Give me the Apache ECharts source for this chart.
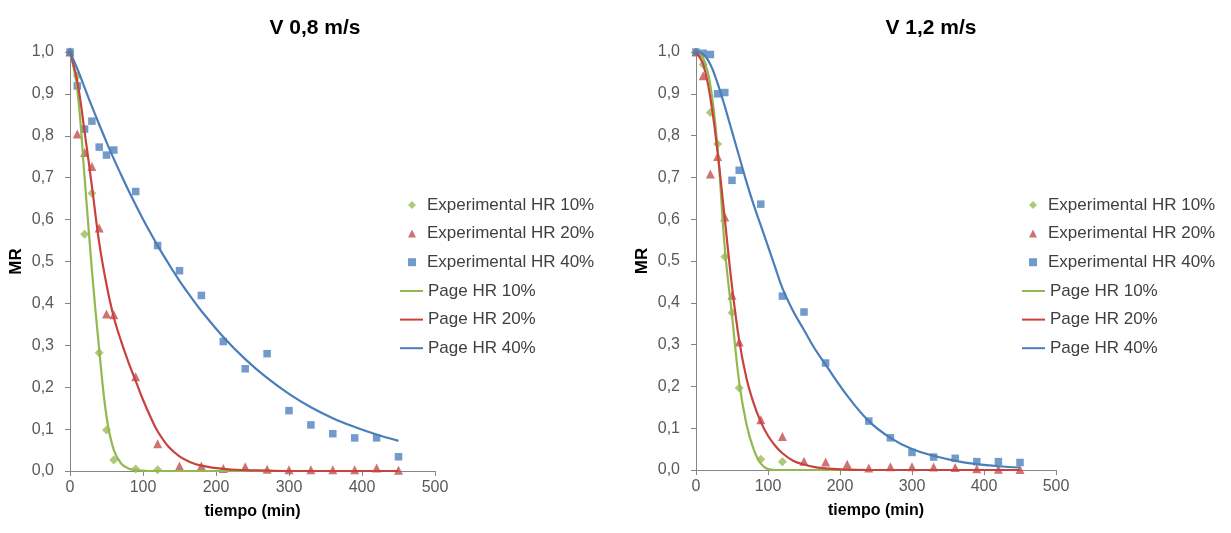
<!DOCTYPE html>
<html>
<head>
<meta charset="utf-8">
<script src="https://cdn.jsdelivr.net/npm/echarts@6/dist/echarts.min.js"></script>
<style>
html,body{margin:0;padding:0;background:#fff;}
#chart{width:1231px;height:533px;}
</style>
</head>
<body>
<div id="chart"></div>
<script>
// ---- data ----
const titles = ['V 0,8 m/s', 'V 1,2 m/s'];
const seriesNames = ['Experimental HR 10%', 'Experimental HR 20%', 'Experimental HR 40%', 'Page HR 10%', 'Page HR 20%', 'Page HR 40%'];
const xTicks = [0, 100, 200, 300, 400, 500];

// left chart (V 0,8 m/s) experimental
const L_t10 = [0, 10, 20, 30, 40, 50, 60, 90, 120];
const L_exp10 = [1.0, 0.943, 0.565, 0.663, 0.282, 0.098, 0.026, 0.005, 0.003];
const L_t20 = [0, 10, 20, 30, 40, 50, 60, 90, 120, 150, 180, 210, 240, 270, 300, 330, 360, 390, 420, 450];
const L_exp20 = [1.0, 0.804, 0.76, 0.727, 0.58, 0.375, 0.373, 0.225, 0.065, 0.012, 0.012, 0.006, 0.01, 0.004, 0.003, 0.003, 0.003, 0.003, 0.007, 0.002];
const L_t40 = [0, 10, 20, 30, 40, 50, 60, 90, 120, 150, 180, 210, 240, 270, 300, 330, 360, 390, 420, 450];
const L_exp40 = [1.0, 0.919, 0.816, 0.835, 0.773, 0.754, 0.766, 0.667, 0.538, 0.478, 0.419, 0.309, 0.244, 0.28, 0.144, 0.11, 0.089, 0.079, 0.079, 0.034];

// right chart (V 1,2 m/s) experimental
const R_t10 = [0, 10, 20, 30, 40, 50, 60, 90, 120];
const R_exp10 = [1.0, 0.97, 0.855, 0.78, 0.51, 0.376, 0.196, 0.026, 0.02];
const R_t20 = [0, 10, 20, 30, 40, 50, 60, 90, 120, 150, 180, 210, 240, 270, 300, 330, 360, 390, 420, 450];
const R_exp20 = [1.0, 0.943, 0.708, 0.75, 0.605, 0.418, 0.306, 0.12, 0.08, 0.021, 0.019, 0.014, 0.005, 0.008, 0.008, 0.007, 0.006, 0.003, 0.002, 0.001];
const R_t40 = [0, 10, 20, 30, 40, 50, 60, 90, 120, 150, 180, 240, 270, 300, 330, 360, 390, 420, 450];
const R_exp40 = [1.0, 0.997, 0.994, 0.9, 0.903, 0.693, 0.717, 0.636, 0.416, 0.378, 0.256, 0.117, 0.077, 0.042, 0.031, 0.028, 0.02, 0.02, 0.018];

// Page model curves
const pageTimes = [0, 10, 20, 30, 40, 50, 60, 70, 80, 90, 100, 110, 120, 135, 150, 165, 180, 210, 240, 270, 300, 330, 360, 390, 420, 450];
const L_page10 = [1, 0.91, 0.70, 0.48, 0.29, 0.13, 0.05, 0.018, 0.006, 0.002, 0.001, 0, 0, 0, 0, 0, 0, 0, 0, 0, 0, 0, 0, 0, 0, 0];
const L_page20 = [1, 0.93, 0.81, 0.68, 0.545, 0.445, 0.367, 0.31, 0.26, 0.215, 0.17, 0.13, 0.095, 0.058, 0.035, 0.021, 0.013, 0.005, 0.002, 0.001, 0, 0, 0, 0, 0, 0];
const L_page40 = [1, 0.96, 0.915, 0.87, 0.827, 0.785, 0.745, 0.707, 0.67, 0.635, 0.601, 0.569, 0.538, 0.495, 0.454, 0.417, 0.382, 0.32, 0.267, 0.222, 0.184, 0.152, 0.126, 0.105, 0.087, 0.072];
const R_page10 = [1, 0.985, 0.92, 0.77, 0.53, 0.37, 0.21, 0.11, 0.05, 0.015, 0.002, 0, 0, 0, 0, 0, 0, 0, 0, 0, 0, 0, 0, 0, 0, 0];
const R_page20 = [1, 0.97, 0.89, 0.76, 0.6, 0.44, 0.31, 0.22, 0.16, 0.115, 0.082, 0.058, 0.04, 0.022, 0.013, 0.007, 0.004, 0.001, 0, 0, 0, 0, 0, 0, 0, 0];
const R_page40 = [1, 0.995, 0.97, 0.925, 0.87, 0.81, 0.75, 0.69, 0.635, 0.585, 0.535, 0.485, 0.435, 0.38, 0.335, 0.29, 0.252, 0.178, 0.117, 0.077, 0.05, 0.034, 0.022, 0.014, 0.009, 0.006];

// ---- styling ----
const FONT = '"Liberation Sans", Arial, sans-serif';
const C_GREEN = '#9BBB59', C_RED = '#C0504D', C_BLUE = '#4F81BD';
const LINE_GREEN = '#93B850', LINE_RED = '#C8423E', LINE_BLUE = '#4A7EBB';

function pairs(t, v) { return t.map((x, i) => [x, v[i]]); }

const layouts = [
  { grid: { left: 70, top: 52, width: 365, height: 419 }, titleX: 310, markLeft: 403, lineLeft: 395 },
  { grid: { left: 696, top: 52, width: 360, height: 418 }, titleX: 926, markLeft: 1024, lineLeft: 1017 }
];

function axisX(i) {
  return {
    gridIndex: i, type: 'value', min: xTicks[0], max: xTicks[xTicks.length - 1], interval: 100,
    name: 'tiempo (min)', nameLocation: 'middle', nameGap: 33,
    nameTextStyle: { fontFamily: FONT, fontSize: 16, fontWeight: 'bold', color: '#000' },
    axisLine: { show: true, onZero: false, lineStyle: { color: '#868686', width: 1 } },
    axisTick: { show: true, inside: false, length: 5, lineStyle: { color: '#868686' } },
    axisLabel: { margin: 9, fontFamily: FONT, fontSize: 16, color: '#595959' },
    splitLine: { show: false }
  };
}
function axisY(i) {
  return {
    gridIndex: i, type: 'value', min: 0, max: 1, interval: 0.1,
    name: 'MR', nameLocation: 'middle', nameGap: 45, nameRotate: 90,
    nameTextStyle: { fontFamily: FONT, fontSize: 17, fontWeight: 'bold', color: '#000' },
    axisLine: { show: true, lineStyle: { color: '#868686', width: 1 } },
    axisTick: { show: true, inside: false, length: 5, lineStyle: { color: '#868686' } },
    axisLabel: { margin: 16, fontFamily: FONT, fontSize: 16, color: '#595959',
      formatter: v => v.toFixed(1).replace('.', ',') },
    splitLine: { show: false }
  };
}

const exps = [
  [[L_t10, L_exp10], [L_t20, L_exp20], [L_t40, L_exp40]],
  [[R_t10, R_exp10], [R_t20, R_exp20], [R_t40, R_exp40]]
];
const pages = [[L_page10, L_page20, L_page40], [R_page10, R_page20, R_page40]];
const markerSyms = ['diamond', 'triangle', 'rect'];
const markerSizes = [9, 9, 7.5];
const markerCols = [C_GREEN, C_RED, C_BLUE];
const lineCols = [LINE_GREEN, LINE_RED, LINE_BLUE];

const series = [];
for (let g = 0; g < 2; g++) {
  for (let k = 0; k < 3; k++) {
    series.push({
      name: seriesNames[k], type: 'scatter', xAxisIndex: g, yAxisIndex: g,
      symbol: markerSyms[k], symbolSize: markerSizes[k],
      itemStyle: { color: markerCols[k] },
      data: pairs(exps[g][k][0], exps[g][k][1]), z: 2
    });
  }
  for (let k = 0; k < 3; k++) {
    series.push({
      name: seriesNames[3 + k], type: 'line', xAxisIndex: g, yAxisIndex: g,
      symbol: 'none', smooth: 0.4,
      lineStyle: { color: lineCols[k], width: 2.2 },
      itemStyle: { color: lineCols[k] },
      data: pairs(pageTimes, pages[g][k]), z: 3
    });
  }
}

const legendText = { fontFamily: FONT, fontSize: 17, color: '#404040' };
const legends = [];
layouts.forEach((l) => {
  legends.push({
    orient: 'vertical', left: l.markLeft, top: 191.5, itemWidth: 8, itemHeight: 8,
    itemGap: 11.6, selectedMode: false,
    textStyle: Object.assign({ padding: [0, 0, 0, 6] }, legendText),
    data: seriesNames.slice(0, 3).map((n, k) => ({ name: n, icon: markerSyms[k] }))
  });
  legends.push({
    orient: 'vertical', left: l.lineLeft, top: 277.5, itemWidth: 23, itemHeight: 2,
    itemGap: 11.6, selectedMode: false,
    textStyle: legendText,
    data: seriesNames.slice(3).map((n) => ({ name: n, icon: 'rect' }))
  });
});

const option = {
  backgroundColor: '#fff',
  animation: false,
  title: layouts.map((l, i) => ({
    text: titles[i], left: l.titleX, top: 13, textAlign: 'center',
    textStyle: { fontFamily: FONT, fontSize: 21, fontWeight: 'bold', color: '#000' }
  })),
  legend: legends,
  grid: layouts.map(l => Object.assign({ containLabel: false }, l.grid)),
  xAxis: [axisX(0), axisX(1)],
  yAxis: [axisY(0), axisY(1)],
  series: series
};

const chart = echarts.init(document.getElementById('chart'), null, { renderer: 'canvas' });
chart.setOption(option);
</script>
</body>
</html>
